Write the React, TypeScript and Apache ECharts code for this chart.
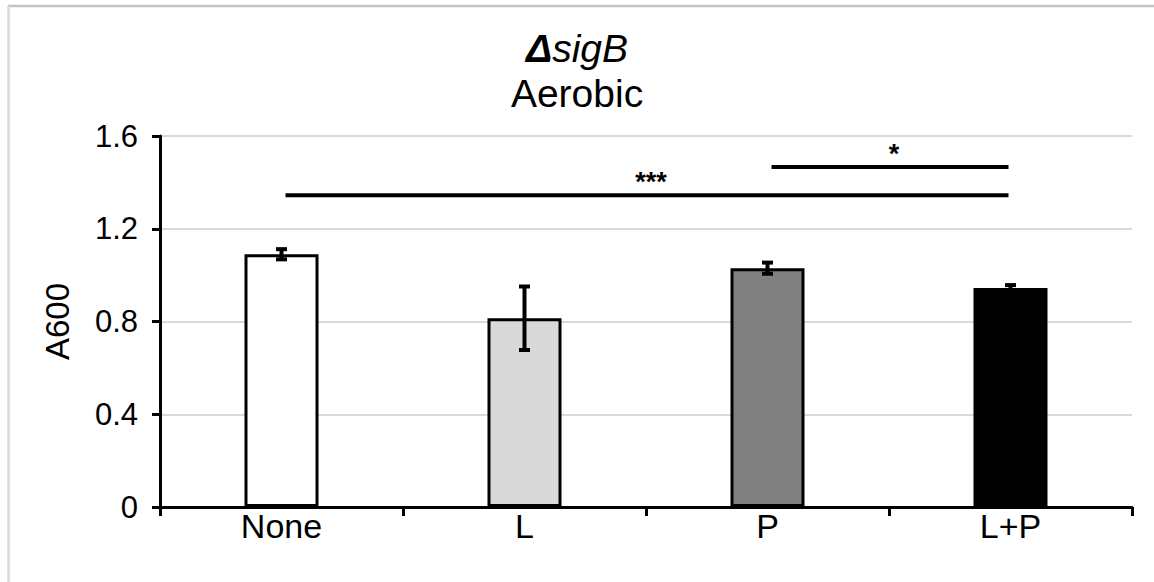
import React, { useEffect, useRef } from "react";
import * as echarts from "echarts";

const categories = ["None", "L", "P", "L+P"];
const means = [1.09, 0.814, 1.03, 0.945];
const errors = [0.022, 0.137, 0.024, 0.012];
const barColors = ["#ffffff", "#d9d9d9", "#808080", "#000000"];
const brackets = [
  { from: 0, to: 3, level: 1.345, label: "***" },
  { from: 2, to: 3, level: 1.466, label: "*" },
];
const yMin = 0;
const yMax = 1.6;
const yInterval = 0.4;

const FONT = "Liberation Sans, Arial, Helvetica, sans-serif";

export default function App() {
  const ref = useRef<HTMLDivElement>(null);
  useEffect(() => {
    if (!ref.current) return;
    const chart = echarts.init(ref.current, null, { renderer: "svg" });
    chart.setOption({
      animation: false,
      backgroundColor: "#ffffff",
      title: [
        {
          text: "{d|Δ}{i|sigB}",
          left: "center",
          top: 24,
          textStyle: {
            fontWeight: "normal",
            rich: {
              d: { fontFamily: FONT, fontSize: 39, fontWeight: "bold", fontStyle: "italic", color: "#000" },
              i: { fontFamily: FONT, fontSize: 39, fontWeight: "normal", fontStyle: "italic", color: "#000" },
            },
          },
        },
        {
          text: "Aerobic",
          left: "center",
          top: 69,
          textStyle: { fontFamily: FONT, fontSize: 39, fontWeight: "normal", color: "#000" },
        },
      ],
      graphic: [
        { type: "line", shape: { x1: 8, y1: 6, x2: 1154, y2: 6 }, style: { stroke: "#c4c4c4", lineWidth: 2.5 } },
        { type: "line", shape: { x1: 8.5, y1: 6, x2: 8.5, y2: 582 }, style: { stroke: "#d9d9d9", lineWidth: 2.5 } },
      ],
      grid: { left: 160, right: 22, top: 136, bottom: 75, containLabel: false },
      xAxis: {
        type: "category",
        data: categories,
        boundaryGap: true,
        axisLine: { show: true, lineStyle: { color: "#000", width: 3 } },
        axisTick: { show: true, length: 9, lineStyle: { color: "#000", width: 3 } },
        axisLabel: { color: "#000", fontFamily: FONT, fontSize: 34, margin: 2 },
        splitLine: { show: false },
      },
      yAxis: {
        type: "value",
        min: yMin,
        max: yMax,
        interval: yInterval,
        name: "A600",
        nameLocation: "middle",
        nameGap: 86,
        nameRotate: 90,
        nameTextStyle: { color: "#000", fontFamily: FONT, fontSize: 33 },
        axisLine: { show: true, lineStyle: { color: "#000", width: 3 } },
        axisTick: { show: true, length: 8, lineStyle: { color: "#000", width: 3 } },
        axisLabel: { color: "#000", fontFamily: FONT, fontSize: 31, margin: 22 },
        splitLine: { show: true, lineStyle: { color: "#d9d9d9", width: 2 } },
      },
      series: [
        {
          type: "bar",
          data: means.map((v, i) => ({
            value: v,
            itemStyle: { color: barColors[i], borderColor: "#000", borderWidth: 3 },
          })),
          barWidth: 74,
          z: 2,
        },
        {
          type: "custom",
          z: 5,
          encode: { x: 0, y: [1, 2] },
          data: means.map((v, i) => [i, v - errors[i], v + errors[i]]),
          renderItem: (params: any, api: any) => {
            const lo = api.coord([api.value(0), api.value(1)]);
            const hi = api.coord([api.value(0), api.value(2)]);
            const hw = 5.5;
            const st = { stroke: "#000", lineWidth: 4 };
            return {
              type: "group",
              children: [
                { type: "line", shape: { x1: hi[0], y1: hi[1], x2: lo[0], y2: lo[1] }, style: st },
                { type: "line", shape: { x1: hi[0] - hw, y1: hi[1], x2: hi[0] + hw, y2: hi[1] }, style: st },
                { type: "line", shape: { x1: lo[0] - hw, y1: lo[1], x2: lo[0] + hw, y2: lo[1] }, style: st },
              ],
            };
          },
        },
        {
          type: "custom",
          z: 5,
          encode: { x: [0, 1], y: 2 },
          data: brackets.map((b) => [b.from, b.to, b.level]),
          renderItem: (params: any, api: any) => {
            const p1 = api.coord([api.value(0), api.value(2)]);
            const p2 = api.coord([api.value(1), api.value(2)]);
            const b = brackets[params.dataIndex];
            const x1 = p1[0] + 4;
            const x2 = p2[0] - 2;
            return {
              type: "group",
              children: [
                { type: "line", shape: { x1, y1: p1[1], x2, y2: p2[1] }, style: { stroke: "#000", lineWidth: 4 } },
                {
                  type: "text",
                  style: {
                    text: b.label,
                    x: (x1 + x2) / 2 + 4,
                    y: p1[1] - 13,
                    align: "center",
                    verticalAlign: "middle",
                    fontFamily: FONT,
                    fontSize: 27,
                    fontWeight: "bold",
                    fill: "#000",
                  },
                },
              ],
            };
          },
        },
      ],
    });
    return () => chart.dispose();
  }, []);
  return <div ref={ref} style={{ position: "fixed", left: 0, top: 0, width: 1154, height: 582 }} />;
}
